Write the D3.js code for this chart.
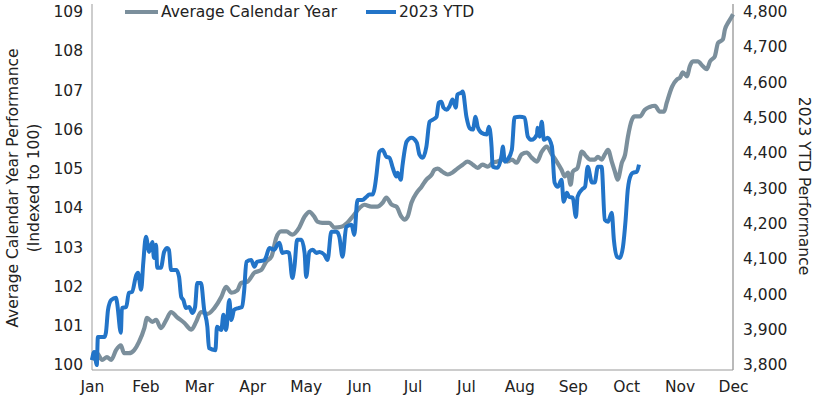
<!DOCTYPE html>
<html>
<head>
<meta charset="utf-8">
<script src="https://cdn.jsdelivr.net/npm/d3@7"></script>
<style>
  html, body { margin: 0; padding: 0; background: #fff; }
  svg text { font-family: "DejaVu Sans", sans-serif; fill: #222; }
</style>
</head>
<body>
<svg id="chart" width="816" height="400"></svg>
<script>
// ---- data ----
const monthLabels = ["Jan","Feb","Mar","Apr","May","Jun","Jul","Jul","Aug","Sep","Oct","Nov","Dec"];
const leftTicks = [100,101,102,103,104,105,106,107,108,109];
const rightTicks = [3800,3900,4000,4100,4200,4300,4400,4500,4600,4700,4800];
const seriesNames = ["Average Calendar Year", "2023 YTD"];

// Average calendar year (x in month units, value indexed to 100)
const avgX = [0.00,0.09,0.19,0.28,0.36,0.45,0.54,0.60,0.69,0.79,0.88,0.98,1.03,1.13,1.20,1.29,1.39,1.48,1.59,1.73,1.86,1.95,2.04,2.16,2.29,2.42,2.51,2.61,2.72,2.79,2.91,3.04,3.17,3.26,3.36,3.45,3.54,3.64,3.75,3.88,3.98,4.07,4.16,4.22,4.31,4.44,4.54,4.67,4.78,4.88,5.01,5.10,5.23,5.34,5.44,5.51,5.61,5.70,5.79,5.85,5.91,5.98,6.08,6.17,6.26,6.36,6.41,6.47,6.56,6.66,6.75,6.84,6.94,7.03,7.13,7.22,7.31,7.41,7.50,7.59,7.69,7.78,7.86,7.95,8.04,8.14,8.23,8.33,8.42,8.51,8.61,8.70,8.79,8.85,8.91,8.96,9.00,9.09,9.17,9.26,9.32,9.41,9.47,9.54,9.60,9.66,9.73,9.79,9.84,9.92,9.98,10.03,10.11,10.16,10.26,10.35,10.44,10.54,10.63,10.71,10.76,10.86,10.95,11.01,11.06,11.14,11.19,11.25,11.34,11.44,11.51,11.57,11.66,11.72,11.81,11.85,11.91,11.98,12.00];
const avgY = [100.13,100.30,100.13,100.20,100.13,100.38,100.50,100.30,100.30,100.38,100.59,100.94,101.20,101.10,101.15,100.94,101.15,101.35,101.22,101.07,100.90,101.10,101.35,101.30,101.45,101.73,101.99,101.84,101.90,102.09,102.12,102.35,102.42,102.63,102.76,103.24,103.40,103.40,103.32,103.50,103.78,103.90,103.78,103.65,103.62,103.62,103.50,103.52,103.62,103.78,104.00,104.08,104.03,104.03,104.13,104.26,104.08,104.03,103.78,103.70,103.78,104.13,104.39,104.54,104.72,104.85,104.97,105.00,104.92,104.85,104.90,105.00,105.10,105.18,105.10,105.02,105.10,105.05,105.15,105.18,105.23,105.18,105.23,105.15,105.36,105.41,105.28,105.18,105.43,105.56,105.36,105.18,104.97,104.80,104.90,104.59,104.92,105.02,105.43,105.30,105.23,105.23,105.30,105.23,105.36,105.48,105.18,104.92,104.72,105.15,105.36,105.79,106.25,106.33,106.33,106.50,106.57,106.60,106.45,106.45,106.68,107.09,107.27,107.32,107.45,107.35,107.60,107.73,107.73,107.60,107.53,107.73,107.86,108.20,108.29,108.55,108.72,108.88,108.93];

// 2023 YTD (x in month units, S&P 500 level)
const ytdX = [0.00,0.04,0.09,0.11,0.23,0.26,0.30,0.36,0.45,0.47,0.54,0.56,0.64,0.69,0.75,0.83,0.86,0.92,0.96,1.01,1.07,1.13,1.16,1.20,1.22,1.29,1.35,1.41,1.44,1.48,1.58,1.63,1.67,1.71,1.76,1.82,1.88,1.93,1.97,2.04,2.10,2.16,2.19,2.31,2.34,2.42,2.46,2.51,2.57,2.61,2.66,2.74,2.81,2.85,2.89,2.98,3.04,3.09,3.23,3.26,3.32,3.41,3.47,3.51,3.56,3.64,3.69,3.75,3.79,3.84,3.92,3.98,4.01,4.07,4.13,4.20,4.26,4.35,4.41,4.48,4.58,4.63,4.69,4.76,4.86,4.91,4.97,5.06,5.14,5.19,5.25,5.33,5.34,5.38,5.44,5.51,5.57,5.63,5.70,5.72,5.78,5.81,5.89,5.98,6.08,6.13,6.19,6.26,6.32,6.38,6.45,6.49,6.54,6.58,6.64,6.69,6.75,6.81,6.84,6.92,6.94,7.01,7.07,7.13,7.18,7.22,7.29,7.39,7.43,7.48,7.50,7.59,7.67,7.69,7.73,7.78,7.86,7.91,8.01,8.10,8.16,8.23,8.33,8.34,8.38,8.42,8.46,8.53,8.61,8.66,8.72,8.79,8.83,8.89,8.93,9.00,9.06,9.09,9.17,9.23,9.28,9.36,9.41,9.47,9.54,9.60,9.66,9.73,9.77,9.83,9.88,9.94,9.99,10.03,10.09,10.13,10.20,10.24];
const ytdY = [3814,3837,3800,3879,3879,3891,3956,3984,3990,3976,3891,3961,3964,4004,4007,4055,4061,4013,4089,4163,4120,4148,4103,4140,4075,4075,4120,4131,4126,4069,4069,4049,3993,3984,3961,3964,3947,3964,4032,4032,3956,3908,3848,3842,3908,3899,3942,3899,3984,3927,3956,3961,3964,4013,4092,4097,4078,4092,4097,4106,4131,4126,4140,4146,4117,4120,4117,4046,4078,4154,4154,4117,4049,4120,4126,4117,4120,4112,4097,4177,4177,4163,4106,4191,4197,4168,4267,4267,4276,4282,4282,4344,4358,4403,4409,4389,4386,4358,4333,4344,4324,4361,4432,4443,4429,4395,4386,4418,4488,4494,4502,4542,4545,4528,4522,4531,4551,4528,4565,4571,4574,4502,4470,4466,4502,4474,4457,4452,4474,4418,4361,4358,4395,4418,4375,4381,4409,4500,4502,4500,4446,4437,4452,4471,4446,4488,4437,4443,4418,4316,4304,4324,4262,4287,4276,4273,4219,4276,4296,4304,4361,4316,4316,4361,4361,4211,4205,4231,4154,4106,4103,4134,4211,4296,4338,4344,4347,4367];

// ---- chart ----
const GRAY = "#7b8f9c", BLUE = "#2274c8";
const svg = d3.select("#chart");
const plotLeft = 92, plotRight = 733, plotTop = 4, plotBottom = 370;

const x = d3.scaleLinear().domain([0, 12]).range([plotLeft, plotRight]);
const yL = d3.scaleLinear().domain([100, 109]).range([365, 11.5]);
const yR = d3.scaleLinear().domain([3800, 4800]).range([365, 11.5]);

// frame lines
svg.append("line").attr("x1", plotLeft).attr("x2", plotLeft).attr("y1", plotTop).attr("y2", plotBottom)
  .attr("stroke", "#bdbdbd").attr("stroke-width", 1.5);
svg.append("line").attr("x1", plotRight).attr("x2", plotRight).attr("y1", plotTop).attr("y2", plotBottom)
  .attr("stroke", "#8c8c8c").attr("stroke-width", 1.2);
svg.append("line").attr("x1", plotLeft).attr("x2", plotRight).attr("y1", plotBottom).attr("y2", plotBottom)
  .attr("stroke", "#9a9a9a").attr("stroke-width", 1.2);

// axes
const fs = "15.5px";
const gL = svg.append("g").attr("transform", `translate(${plotLeft},0)`)
  .call(d3.axisLeft(yL).tickValues(leftTicks).tickSize(0).tickPadding(9).tickFormat(d3.format("d")));
const gR = svg.append("g").attr("transform", `translate(${plotRight},0)`)
  .call(d3.axisRight(yR).tickValues(rightTicks).tickSize(0).tickPadding(10).tickFormat(d3.format(",")));
const gX = svg.append("g").attr("transform", `translate(0,${plotBottom})`)
  .call(d3.axisBottom(x).tickValues(d3.range(monthLabels.length)).tickSize(0).tickPadding(11)
    .tickFormat((d, i) => monthLabels[i]));
[gL, gR, gX].forEach(g => {
  g.select(".domain").remove();
  g.selectAll("text").style("font-size", fs).style("font-family", "DejaVu Sans, sans-serif").attr("fill", "#222");
});

// lines
const avgData = avgX.map((d, i) => [d, avgY[i]]);
const ytdData = ytdX.map((d, i) => [d, ytdY[i]]);
svg.append("path").datum(avgData)
  .attr("d", d3.line().x(d => x(d[0])).y(d => yL(d[1])).curve(d3.curveMonotoneX))
  .attr("fill", "none").attr("stroke", GRAY).attr("stroke-width", 4.2).attr("stroke-linejoin", "round");
svg.append("path").datum(ytdData)
  .attr("d", d3.line().x(d => x(d[0])).y(d => yR(d[1])).curve(d3.curveMonotoneX))
  .attr("fill", "none").attr("stroke", BLUE).attr("stroke-width", 4).attr("stroke-linejoin", "round");

// axis titles
svg.append("text").attr("transform", "translate(18,188) rotate(-90)").attr("text-anchor", "middle")
  .style("font-size", fs).text("Average Calendar Year Performance");
svg.append("text").attr("transform", "translate(38.5,188) rotate(-90)").attr("text-anchor", "middle")
  .style("font-size", fs).text("(Indexed to 100)");
svg.append("text").attr("transform", "translate(799,186) rotate(90)").attr("text-anchor", "middle")
  .style("font-size", fs).text("2023 YTD Performance");

// legend
const legend = [
  { name: seriesNames[0], color: GRAY, x0: 125, w: 33 },
  { name: seriesNames[1], color: BLUE, x0: 366, w: 30 }
];
legend.forEach(l => {
  svg.append("line").attr("x1", l.x0).attr("x2", l.x0 + l.w).attr("y1", 12).attr("y2", 12)
    .attr("stroke", l.color).attr("stroke-width", 4);
  svg.append("text").attr("x", l.x0 + l.w + 3).attr("y", 12).attr("dy", "0.35em")
    .style("font-size", fs).text(l.name);
});
</script>
</body>
</html>
